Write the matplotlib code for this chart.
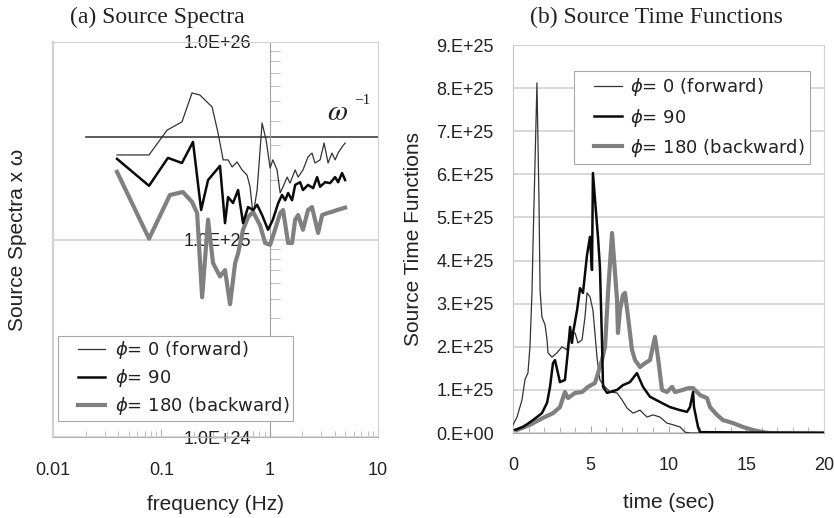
import matplotlib
matplotlib.use("Agg")
import matplotlib.pyplot as plt
import numpy as np
from matplotlib.ticker import FixedLocator, FixedFormatter, LogLocator, NullFormatter, MultipleLocator
from matplotlib.lines import Line2D
from matplotlib.legend_handler import HandlerLine2D

plt.rcParams['font.family'] = ['Liberation Sans', 'DejaVu Sans']
plt.rcParams['mathtext.fontset'] = 'dejavusans'

# ---------------- data ----------------
legend_labels = [r'$\phi$= 0 (forward)', r'$\phi$= 90', r'$\phi$= 180 (backward)']

# (a) Source spectra x omega  (values in units of 1e25)
freq_fwd = [0.039, 0.077, 0.113, 0.155, 0.192, 0.227, 0.294, 0.334, 0.372, 0.413,
            0.450, 0.500, 0.556, 0.618, 0.659, 0.703, 0.766, 0.851, 0.927, 1.01,
            1.07, 1.17, 1.25, 1.33, 1.45, 1.54, 1.72, 1.83, 2.03, 2.26,
            2.46, 2.62, 2.92, 3.18, 3.46, 3.76, 4.02, 4.28, 4.66, 4.97]
spec_fwd = [2.68, 2.68, 3.58, 3.94, 5.52, 5.39, 4.69, 3.46, 2.53, 2.53,
            2.33, 2.47, 2.25, 2.12, 1.85, 1.33, 1.78, 3.89, 3.19, 2.30,
            2.53, 2.25, 1.72, 1.85, 2.07, 1.93, 2.25, 2.07, 2.25, 2.62,
            2.74, 2.44, 2.53, 3.08, 2.44, 2.74, 2.53, 2.74, 2.94, 3.08]

freq_90 = [0.039, 0.077, 0.115, 0.155, 0.196, 0.233, 0.270, 0.348, 0.387, 0.413,
           0.459, 0.511, 0.568, 0.632, 0.703, 0.766, 0.851, 0.966, 1.07, 1.20,
           1.30, 1.39, 1.48, 1.61, 1.72, 1.91, 2.03, 2.26, 2.52, 2.74,
           2.92, 3.25, 3.61, 4.02, 4.28, 4.66, 4.97]
spec_90 = [2.56, 1.87, 2.59, 2.44, 3.12, 1.41, 2.00, 2.36, 1.21, 1.64,
           1.53, 1.78, 1.21, 1.46, 1.41, 1.50, 1.33, 1.12, 1.26, 1.53,
           1.68, 1.58, 1.72, 1.58, 1.89, 1.95, 1.78, 1.89, 1.82, 2.07,
           1.85, 1.95, 1.93, 2.07, 1.95, 2.17, 2.00]

freq_180 = [0.039, 0.077, 0.120, 0.158, 0.192, 0.214, 0.238, 0.270, 0.300, 0.348,
            0.387, 0.431, 0.480, 0.511, 0.568, 0.632, 0.703, 0.815, 0.908, 1.01,
            1.12, 1.25, 1.33, 1.48, 1.61, 1.72, 1.83, 2.03, 2.26, 2.46,
            2.62, 2.80, 3.05, 3.39, 3.76, 4.19, 4.97]
spec_180 = [2.20, 1.01, 1.68, 1.74, 1.55, 1.36, 0.51, 1.26, 0.76, 0.65,
            0.70, 0.47, 0.76, 0.85, 1.12, 1.30, 1.38, 1.18, 0.96, 0.94,
            1.12, 1.36, 1.41, 0.96, 0.96, 1.26, 1.33, 1.12, 1.41, 1.46,
            1.26, 1.08, 1.33, 1.36, 1.38, 1.41, 1.45]

omega_line_freq = [0.02, 10.0]
omega_line_level = 3.3  # x 1e25
spec_unit = 1e25

freq_ticks = [0.01, 0.1, 1, 10]
freq_tick_labels = ['0.01', '0.1', '1', '10']
spec_ticks = [1e24, 1e25, 1e26]
spec_tick_labels = ['1.0E+24', '1.0E+25', '1.0E+26']

# (b) Source time functions (values in units of 1e25)
time_fwd = [0.0, 0.26, 0.58, 0.77, 0.96, 1.09, 1.22, 1.29, 1.54, 1.67,
            1.74, 1.86, 2.06, 2.19, 2.25, 2.51, 2.83, 3.15, 3.47, 3.67,
            3.99, 4.18, 4.44, 4.63, 4.76, 4.95, 5.14, 5.27, 5.40, 5.59,
            5.92, 6.24, 6.69, 7.01, 7.33, 7.72, 8.17, 8.62, 9.00, 9.45,
            9.90, 10.29, 10.74, 11.06, 11.40, 20.0]
stf_fwd = [0.19, 0.37, 0.77, 1.24, 1.39, 2.00, 3.25, 4.41, 8.12, 5.41,
           3.32, 2.69, 2.51, 2.16, 1.86, 1.76, 1.86, 2.00, 1.93, 2.32,
           2.32, 2.09, 2.16, 2.69, 3.25, 3.16, 2.85, 2.32, 1.76, 1.23,
           1.07, 0.95, 0.93, 0.77, 0.58, 0.46, 0.53, 0.37, 0.42, 0.37,
           0.23, 0.19, 0.14, 0.02, 0.0, 0.0]

time_90 = [0.13, 0.64, 1.29, 1.86, 2.19, 2.38, 2.57, 2.70, 2.89, 3.02,
           3.34, 3.54, 3.67, 3.79, 3.86, 4.12, 4.31, 4.50, 4.76, 4.95,
           5.08, 5.14, 5.47, 5.59, 5.72, 5.79, 6.05, 6.24, 6.69, 7.07,
           7.52, 7.97, 8.36, 8.81, 9.45, 10.10, 10.74, 11.19, 11.38, 11.58,
           11.64, 11.90, 12.03, 20.0]
stf_90 = [0.07, 0.14, 0.30, 0.46, 0.70, 1.07, 1.62, 1.69, 1.39, 1.18,
          1.23, 1.93, 2.46, 2.09, 2.32, 2.85, 3.36, 3.25, 4.13, 4.55,
          3.78, 6.03, 4.52, 3.85, 2.16, 1.07, 0.93, 0.95, 1.00, 1.11,
          1.18, 1.39, 1.07, 0.84, 0.72, 0.60, 0.53, 0.49, 0.60, 0.95,
          0.60, 0.14, 0.02, 0.0]

time_180 = [0.26, 1.09, 1.93, 2.57, 3.02, 3.34, 3.54, 3.99, 4.44, 4.82,
            5.27, 5.47, 5.72, 5.92, 6.11, 6.37, 6.69, 6.75, 6.88, 7.07,
            7.20, 7.40, 7.65, 7.85, 8.17, 8.49, 8.81, 9.13, 9.32, 9.58,
            9.90, 10.23, 10.42, 10.93, 11.25, 11.58, 12.03, 12.48, 12.67, 13.12,
            13.50, 14.15, 14.79, 15.43, 16.08, 16.50, 20.0]
stf_180 = [0.07, 0.19, 0.35, 0.46, 0.60, 0.95, 0.81, 0.93, 0.95, 1.07,
           1.16, 1.39, 1.69, 2.00, 3.25, 4.64, 3.09, 2.32, 2.85, 3.20,
           3.25, 2.69, 1.93, 1.69, 1.53, 1.62, 1.69, 2.23, 1.76, 1.00,
           0.95, 1.07, 0.95, 1.00, 1.04, 1.04, 0.88, 0.81, 0.60, 0.42,
           0.30, 0.23, 0.14, 0.07, 0.02, 0.0, 0.0]
stf_unit = 1e25

time_ticks = [0, 5, 10, 15, 20]
stf_ticks = [0, 1e25, 2e25, 3e25, 4e25, 5e25, 6e25, 7e25, 8e25, 9e25]
stf_tick_labels = ['0.E+00', '1.E+25', '2.E+25', '3.E+25', '4.E+25',
                   '5.E+25', '6.E+25', '7.E+25', '8.E+25', '9.E+25']

# ---------------- styles ----------------
styles = [dict(color='#333333', lw=0.9),
          dict(color='#0a0a0a', lw=1.8),
          dict(color='#808080', lw=3.0)]
frame_c = '#d2d2d2'
axis_c = '#a0a0a0'
txt_c = '#222222'
tick_fs = 13
label_fs = 15
legend_font = dict(family=['DejaVu Sans'], size=13)

fig = plt.figure(figsize=(8.34, 5.18), dpi=100)
fig.patch.set_facecolor('white')

# ---------------- panel (a) ----------------
ax1 = fig.add_axes([53/834, 81/518, 325/834, 395/518])
ax1.set_xscale('log')
ax1.set_yscale('log')
ax1.set_xlim(0.01, 10)
ax1.set_ylim(1e24, 1e26)
ax1.set_axisbelow(True)

ax1.plot(omega_line_freq, [omega_line_level*spec_unit]*2, color='#404040', lw=1.2, zorder=2)
ax1.plot(freq_fwd, np.array(spec_fwd)*spec_unit, **styles[0], zorder=3)
ax1.plot(freq_90, np.array(spec_90)*spec_unit, **styles[1], zorder=4)
ax1.plot(freq_180, np.array(spec_180)*spec_unit, **styles[2], zorder=3)

ax1.spines['left'].set_position(('data', 1))
ax1.spines['left'].set_color(axis_c)
ax1.spines['bottom'].set_color('#b4b4b4')
ax1.spines['top'].set_color(frame_c)
ax1.spines['right'].set_color(frame_c)
ax1.axvline(0.01, color=frame_c, lw=1.6, clip_on=False, zorder=1)

ax1.xaxis.set_major_locator(FixedLocator(freq_ticks))
ax1.xaxis.set_major_formatter(FixedFormatter(freq_tick_labels))
ax1.xaxis.set_minor_locator(LogLocator(base=10, subs=np.arange(2, 10)))
ax1.xaxis.set_minor_formatter(NullFormatter())
ax1.yaxis.set_major_locator(FixedLocator(spec_ticks))
ax1.yaxis.set_major_formatter(FixedFormatter(spec_tick_labels))
ax1.yaxis.set_minor_locator(LogLocator(base=10, subs=np.arange(2, 10)))
ax1.yaxis.set_minor_formatter(NullFormatter())
ax1.tick_params(axis='x', which='major', direction='in', length=6, color='#b4b4b4', pad=18, labelsize=tick_fs, labelcolor=txt_c)
ax1.tick_params(axis='x', which='minor', direction='in', length=4, color='#b4b4b4')
ax1.tick_params(axis='y', which='major', direction='in', length=0, pad=13, labelsize=tick_fs, labelcolor=txt_c)
ax1.tick_params(axis='y', which='minor', direction='in', length=7, color='#b4b4b4')
for lab in ax1.get_yticklabels():
    lab.set_va('center_baseline')
ax1.yaxis.grid(True, which='major', color=frame_c, lw=1.2)

ax1.set_xlabel('frequency (Hz)', fontsize=label_fs, color=txt_c)
ax1.xaxis.set_label_coords(0.5, -0.148)
ax1.set_ylabel('Source Spectra x ω', fontsize=label_fs, color=txt_c)
ax1.yaxis.set_label_coords(-0.08, 0.5)

h1 = [Line2D([], [], **s) for s in styles]
leg1 = ax1.legend(h1, legend_labels, loc='upper left', bbox_to_anchor=(0.015, 0.256),
                  prop=legend_font, frameon=True, fancybox=False, edgecolor='#a8a8a8',
                  framealpha=1, handlelength=2.4, handletextpad=0.55, labelspacing=0.33,
                  borderpad=0.2, borderaxespad=0,
                  handler_map={Line2D: HandlerLine2D(xpad=0.9)})
leg1.get_frame().set_linewidth(0.8)
for t in leg1.get_texts():
    t.set_color(txt_c)

fig.text(338/834, 1-112/518, r'$\omega$', math_fontfamily='stix', fontsize=21,
         ha='center', va='center', color=txt_c)
fig.text(362/834, 1-100/518, '\u22121', family='Liberation Serif', fontsize=11,
         ha='center', va='center', color=txt_c)

# ---------------- panel (b) ----------------
ax2 = fig.add_axes([513/834, 85/518, 311/834, 388/518])
ax2.set_xlim(0, 20)
ax2.set_ylim(0, 9e25)
ax2.set_axisbelow(True)

ax2.plot(time_fwd, np.array(stf_fwd)*stf_unit, **styles[0], zorder=3)
ax2.plot(time_180, np.array(stf_180)*stf_unit, **styles[2], zorder=3)
ax2.plot(time_90, np.array(stf_90)*stf_unit, **styles[1], zorder=4)

ax2.xaxis.set_major_locator(FixedLocator(time_ticks))
ax2.xaxis.set_minor_locator(MultipleLocator(1))
ax2.yaxis.set_major_locator(FixedLocator(stf_ticks))
ax2.yaxis.set_major_formatter(FixedFormatter(stf_tick_labels))
ax2.tick_params(axis='x', which='major', direction='in', length=5, color='#a8a8a8', pad=17, labelsize=tick_fs, labelcolor=txt_c)
ax2.tick_params(axis='x', which='minor', direction='in', length=4, color='#a8a8a8')
ax2.tick_params(axis='y', which='major', direction='in', length=0, pad=14, labelsize=tick_fs, labelcolor=txt_c)
ax2.yaxis.grid(True, which='major', color=frame_c, lw=1.2)
for s in ['top', 'right']:
    ax2.spines[s].set_color(frame_c)
ax2.spines['left'].set_color('#c4c4c4')
ax2.spines['bottom'].set_color('#a8a8a8')

ax2.set_xlabel('time (sec)', fontsize=label_fs, color=txt_c)
ax2.xaxis.set_label_coords(0.5, -0.155)
ax2.set_ylabel('Source Time Functions', fontsize=label_fs, color=txt_c)
ax2.yaxis.set_label_coords(-0.289, 0.5)

h2 = [Line2D([], [], **s) for s in styles]
leg2 = ax2.legend(h2, legend_labels, loc='upper left', bbox_to_anchor=(0.196, 0.933),
                  prop=legend_font, frameon=True, fancybox=False, edgecolor='#a8a8a8',
                  framealpha=1, handlelength=2.36, handletextpad=0.45, labelspacing=0.45,
                  borderpad=0.3, borderaxespad=0,
                  handler_map={Line2D: HandlerLine2D(xpad=0.8)})
leg2.get_frame().set_linewidth(0.8)
for t in leg2.get_texts():
    t.set_color(txt_c)

# ---------------- titles ----------------
fig.text(157/834, 1-17/518, '(a) Source Spectra', family='Liberation Serif', fontsize=17,
         ha='center', va='center', color=txt_c)
fig.text(656/834, 1-17/518, '(b) Source Time Functions', family='Liberation Serif', fontsize=17,
         ha='center', va='center', color=txt_c)

fig.savefig('out.png', dpi=100, facecolor='white')
